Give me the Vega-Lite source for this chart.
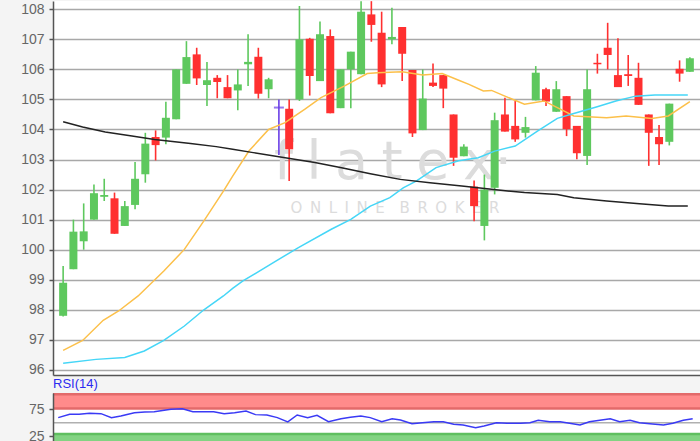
{
  "$schema": "https://vega.github.io/schema/vega-lite/v6.json",
  "background": "#f4f4f4",
  "padding": {"left": 20, "top": 0, "right": 0, "bottom": 0},
  "autosize": {"type": "pad"},
  "spacing": 18,
  "bounds": "flush",
  "config": {
    "view": {"stroke": null, "fill": "#ffffff"},
    "font": "Liberation Sans",
    "axis": {"labelFont": "Liberation Sans", "labelFontSize": 14, "labelColor": "#666666", "tickColor": "#555555", "tickSize": 4, "tickWidth": 1.5, "domainColor": "#555555", "domainWidth": 1.5, "labelPadding": 5, "gridColor": "#a8a8a8", "gridWidth": 1.5, "grid": false, "labelOverlap": false}
  },
  "datasets": {
    "candles": [
      {"i":0,"o":97.8,"h":99.46,"l":97.78,"c":98.9},
      {"i":1,"o":99.35,"h":101.0,"l":99.35,"c":100.6},
      {"i":2,"o":100.28,"h":101.54,"l":100.0,"c":100.61},
      {"i":3,"o":101.0,"h":102.17,"l":101.0,"c":101.88},
      {"i":4,"o":101.76,"h":102.36,"l":101.62,"c":101.82},
      {"i":5,"o":101.71,"h":101.9,"l":100.53,"c":100.53},
      {"i":6,"o":100.79,"h":101.62,"l":100.79,"c":101.45},
      {"i":7,"o":101.49,"h":102.92,"l":101.35,"c":102.36},
      {"i":8,"o":102.51,"h":103.89,"l":102.23,"c":103.53},
      {"i":9,"o":103.75,"h":103.97,"l":102.97,"c":103.48},
      {"i":10,"o":103.73,"h":104.92,"l":103.51,"c":104.39},
      {"i":11,"o":104.34,"h":106.0,"l":104.34,"c":106.0},
      {"i":12,"o":105.52,"h":106.94,"l":105.52,"c":106.41},
      {"i":13,"o":106.5,"h":106.72,"l":105.48,"c":105.7},
      {"i":14,"o":105.48,"h":106.25,"l":104.78,"c":105.64},
      {"i":15,"o":105.72,"h":105.81,"l":105.04,"c":105.58},
      {"i":16,"o":105.41,"h":105.81,"l":105.04,"c":105.04},
      {"i":17,"o":105.3,"h":106.0,"l":104.64,"c":105.5},
      {"i":18,"o":106.17,"h":107.17,"l":105.45,"c":106.25},
      {"i":19,"o":106.42,"h":106.72,"l":105.03,"c":105.19},
      {"i":20,"o":105.34,"h":105.72,"l":105.04,"c":105.67},
      {"i":21,"o":104.73,"h":105.0,"l":103.15,"c":104.73},
      {"i":22,"o":104.69,"h":105.0,"l":102.29,"c":103.34},
      {"i":23,"o":105.0,"h":108.11,"l":104.95,"c":107.0},
      {"i":24,"o":107.02,"h":107.05,"l":105.13,"c":105.78},
      {"i":25,"o":105.61,"h":107.59,"l":105.61,"c":107.17},
      {"i":26,"o":107.11,"h":107.33,"l":104.54,"c":104.54},
      {"i":27,"o":104.71,"h":106.0,"l":104.71,"c":106.0},
      {"i":28,"o":106.0,"h":106.59,"l":104.71,"c":106.59},
      {"i":29,"o":105.84,"h":108.27,"l":105.84,"c":107.92},
      {"i":30,"o":107.83,"h":108.27,"l":106.92,"c":107.48},
      {"i":31,"o":107.22,"h":107.92,"l":105.41,"c":105.5},
      {"i":32,"o":107.0,"h":108.05,"l":106.84,"c":107.08},
      {"i":33,"o":107.41,"h":107.41,"l":105.61,"c":106.52},
      {"i":34,"o":105.98,"h":105.98,"l":103.75,"c":103.87},
      {"i":35,"o":103.98,"h":106.0,"l":103.98,"c":105.03},
      {"i":36,"o":105.56,"h":106.2,"l":105.41,"c":105.45},
      {"i":37,"o":105.81,"h":105.81,"l":104.71,"c":105.36},
      {"i":38,"o":104.5,"h":104.5,"l":102.79,"c":103.06},
      {"i":39,"o":103.11,"h":103.51,"l":103.11,"c":103.43},
      {"i":40,"o":102.1,"h":102.3,"l":100.95,"c":101.45},
      {"i":41,"o":100.79,"h":102.5,"l":100.31,"c":102.0},
      {"i":42,"o":102.06,"h":104.56,"l":101.84,"c":104.31},
      {"i":43,"o":104.5,"h":105.06,"l":103.93,"c":103.93},
      {"i":44,"o":104.12,"h":104.95,"l":103.59,"c":103.67},
      {"i":45,"o":103.89,"h":104.42,"l":103.73,"c":104.08},
      {"i":46,"o":104.97,"h":106.11,"l":104.97,"c":105.89},
      {"i":47,"o":105.34,"h":105.39,"l":104.78,"c":104.93},
      {"i":48,"o":104.59,"h":105.61,"l":104.59,"c":105.34},
      {"i":49,"o":105.11,"h":105.11,"l":103.78,"c":104.01},
      {"i":50,"o":104.12,"h":104.12,"l":103.01,"c":103.21},
      {"i":51,"o":103.12,"h":106.0,"l":102.82,"c":105.34},
      {"i":52,"o":106.22,"h":106.52,"l":105.86,"c":106.17},
      {"i":53,"o":106.72,"h":107.55,"l":106.0,"c":106.48},
      {"i":54,"o":105.81,"h":107.04,"l":105.41,"c":105.41},
      {"i":55,"o":105.84,"h":106.48,"l":105.45,"c":105.78},
      {"i":56,"o":105.72,"h":106.22,"l":104.82,"c":104.82},
      {"i":57,"o":104.5,"h":104.5,"l":102.79,"c":103.89},
      {"i":58,"o":103.75,"h":104.15,"l":102.82,"c":103.51},
      {"i":59,"o":103.59,"h":104.86,"l":103.47,"c":104.86},
      {"i":60,"o":106.02,"h":106.3,"l":105.59,"c":105.86},
      {"i":61,"o":105.92,"h":106.4,"l":105.92,"c":106.37}
    ],
    "ma": [
      {"s":"short","i":0,"v":96.65},{"s":"short","i":1.9,"v":96.98},{"s":"short","i":3.9,"v":97.65},{"s":"short","i":5.4,"v":97.96},{"s":"short","i":7.3,"v":98.46},{"s":"short","i":9.8,"v":99.29},{"s":"short","i":11.8,"v":100.01},{"s":"short","i":13.7,"v":100.96},{"s":"short","i":15.6,"v":101.95},{"s":"short","i":16.5,"v":102.45},{"s":"short","i":18.1,"v":103.29},{"s":"short","i":20.0,"v":104.0},{"s":"short","i":21.6,"v":104.23},{"s":"short","i":23.5,"v":104.67},{"s":"short","i":25.1,"v":105.06},{"s":"short","i":27.4,"v":105.45},{"s":"short","i":29.6,"v":105.86},{"s":"short","i":30.6,"v":105.89},{"s":"short","i":33.0,"v":105.92},{"s":"short","i":35.0,"v":105.81},{"s":"short","i":36.9,"v":105.86},{"s":"short","i":38.5,"v":105.64},{"s":"short","i":39.5,"v":105.5},{"s":"short","i":40.9,"v":105.28},{"s":"short","i":41.7,"v":105.3},{"s":"short","i":43.0,"v":105.11},{"s":"short","i":44.9,"v":104.84},{"s":"short","i":46.8,"v":104.95},{"s":"short","i":48.1,"v":104.73},{"s":"short","i":49.7,"v":104.45},{"s":"short","i":52.9,"v":104.39},{"s":"short","i":54.8,"v":104.45},{"s":"short","i":57.3,"v":104.37},{"s":"short","i":58.9,"v":104.45},{"s":"short","i":61.0,"v":104.93},
      {"s":"mid","i":0,"v":96.22},{"s":"mid","i":3.2,"v":96.35},{"s":"mid","i":6.0,"v":96.41},{"s":"mid","i":7.9,"v":96.63},{"s":"mid","i":9.8,"v":96.98},{"s":"mid","i":11.8,"v":97.46},{"s":"mid","i":13.7,"v":98.0},{"s":"mid","i":15.6,"v":98.46},{"s":"mid","i":16.5,"v":98.71},{"s":"mid","i":17.5,"v":98.96},{"s":"mid","i":20.7,"v":99.62},{"s":"mid","i":22.9,"v":100.07},{"s":"mid","i":26.1,"v":100.68},{"s":"mid","i":28.0,"v":101.01},{"s":"mid","i":29.9,"v":101.45},{"s":"mid","i":31.8,"v":101.73},{"s":"mid","i":33.1,"v":102.06},{"s":"mid","i":34.4,"v":102.29},{"s":"mid","i":36.3,"v":102.73},{"s":"mid","i":38.5,"v":102.96},{"s":"mid","i":40.4,"v":103.06},{"s":"mid","i":42.0,"v":103.28},{"s":"mid","i":44.0,"v":103.45},{"s":"mid","i":46.2,"v":103.95},{"s":"mid","i":48.1,"v":104.37},{"s":"mid","i":49.7,"v":104.53},{"s":"mid","i":51.9,"v":104.75},{"s":"mid","i":53.8,"v":104.95},{"s":"mid","i":55.7,"v":105.11},{"s":"mid","i":57.6,"v":105.15},{"s":"mid","i":60.8,"v":105.15},
      {"s":"long","i":0,"v":104.26},{"s":"long","i":1.9,"v":104.08},{"s":"long","i":4.1,"v":103.92},{"s":"long","i":6.7,"v":103.78},{"s":"long","i":8.9,"v":103.67},{"s":"long","i":12.4,"v":103.53},{"s":"long","i":14.9,"v":103.43},{"s":"long","i":16.5,"v":103.34},{"s":"long","i":18.5,"v":103.23},{"s":"long","i":21.3,"v":103.08},{"s":"long","i":24.5,"v":102.9},{"s":"long","i":27.1,"v":102.73},{"s":"long","i":29.9,"v":102.53},{"s":"long","i":32.8,"v":102.34},{"s":"long","i":35.7,"v":102.23},{"s":"long","i":38.8,"v":102.12},{"s":"long","i":41.7,"v":102.01},{"s":"long","i":44.9,"v":101.9},{"s":"long","i":48.1,"v":101.84},{"s":"long","i":49.7,"v":101.73},{"s":"long","i":52.9,"v":101.62},{"s":"long","i":56.1,"v":101.53},{"s":"long","i":58.9,"v":101.45},{"s":"long","i":60.8,"v":101.45}
    ],
    "rsi": [
      {"i":0,"r":59.2},{"i":1.1,"r":65.4},{"i":2.0,"r":65.4},{"i":3.0,"r":67.2},{"i":4.1,"r":66.5},{"i":5.1,"r":59.2},{"i":6.0,"r":62.3},{"i":7.3,"r":68.3},{"i":8.3,"r":69.6},{"i":9.2,"r":70.1},{"i":10.8,"r":74.5},{"i":11.9,"r":75.6},{"i":12.9,"r":70.1},{"i":13.7,"r":70.1},{"i":14.9,"r":70.1},{"i":15.9,"r":66.5},{"i":16.9,"r":68.3},{"i":18.0,"r":71.4},{"i":18.9,"r":64.7},{"i":20.0,"r":64.1},{"i":21.0,"r":59.2},{"i":22.0,"r":51.3},{"i":22.9,"r":64.1},{"i":23.9,"r":59.2},{"i":24.8,"r":63.5},{"i":25.9,"r":51.8},{"i":27.1,"r":57.3},{"i":28.0,"r":60.0},{"i":29.0,"r":62.3},{"i":29.9,"r":59.2},{"i":31.0,"r":51.8},{"i":32.0,"r":57.3},{"i":32.8,"r":54.9},{"i":33.9,"r":48.2},{"i":34.9,"r":50.0},{"i":36.0,"r":51.8},{"i":36.9,"r":51.8},{"i":37.9,"r":47.1},{"i":38.8,"r":45.8},{"i":40.0,"r":40.8},{"i":40.8,"r":44.0},{"i":42.0,"r":50.0},{"i":43.0,"r":48.9},{"i":44.3,"r":48.9},{"i":45.2,"r":50.0},{"i":46.0,"r":54.4},{"i":47.1,"r":51.8},{"i":48.1,"r":51.8},{"i":49.0,"r":48.9},{"i":50.0,"r":45.8},{"i":50.9,"r":51.8},{"i":51.9,"r":54.4},{"i":52.9,"r":57.3},{"i":53.8,"r":51.8},{"i":54.8,"r":54.4},{"i":55.7,"r":50.0},{"i":56.7,"r":48.2},{"i":58.0,"r":45.8},{"i":58.9,"r":48.9},{"i":59.9,"r":54.4},{"i":60.8,"r":57.3}
    ],
    "zones": [
      {"zone":"overbought","lo":75.9,"hi":101.9},
      {"zone":"oversold","lo":16.4,"hi":29.3}
    ],
    "edges": [
      {"zone":"overbought","y":101.9},
      {"zone":"overbought","y":75.9},
      {"zone":"oversold","y":29.3}
    ],
    "mid": [{"level":50}],
    "brand": [{"name":"f\u2005l\u2005a\u2005t\u2005e\u2005x\u00b7","tag":"O\u2002N\u2002L\u2002I\u2002N\u2002E\u2002\u2002B\u2002R\u2002O\u2002K\u2002E\u2002R"}]
  },
  "vconcat": [
    {
      "width": 647,
      "height": 374,
      "layer": [
        {
          "data": {"name": "brand"},
          "mark": {"type": "text", "font": "DejaVu Sans", "fontSize": 54, "color": "#dcdcdc", "align": "center", "baseline": "alphabetic"},
          "encoding": {
            "x": {"datum": 32.1, "type": "quantitative", "scale": {"domain": [-0.5, 61.5], "nice": false, "zero": false}, "axis": {"labels": false, "ticks": false, "grid": false, "domain": true}, "title": null},
            "y": {"datum": 102.35, "type": "quantitative", "scale": {"domain": [95.83, 108.276], "nice": false, "zero": false}, "axis": {"values": [96,97,98,99,100,101,102,103,104,105,106,107,108], "tickCount": 13, "grid": true, "labelOverlap": false}, "title": null},
            "text": {"field": "name"}
          }
        },
        {
          "data": {"name": "brand"},
          "mark": {"type": "text", "font": "DejaVu Sans", "fontSize": 15, "color": "#dcdcdc", "align": "center", "baseline": "alphabetic"},
          "encoding": {
            "x": {"datum": 32.3, "type": "quantitative", "axis": {"labels": false, "ticks": false, "grid": false, "domain": true}, "title": null},
            "y": {"datum": 101.22, "type": "quantitative", "axis": {"values": [96,97,98,99,100,101,102,103,104,105,106,107,108], "tickCount": 13, "grid": true, "labelOverlap": false}, "title": null},
            "text": {"field": "tag"}
          }
        },
        {
          "data": {"name": "candles"},
          "mark": {"type": "rule", "strokeWidth": 1.6},
          "encoding": {
            "x": {"field": "i", "type": "quantitative", "scale": {"domain": [-0.5, 61.5], "nice": false, "zero": false}, "axis": {"labels": false, "ticks": false, "grid": false, "domain": true}, "title": null},
            "y": {"field": "l", "type": "quantitative", "axis": {"values": [96,97,98,99,100,101,102,103,104,105,106,107,108], "tickCount": 13, "grid": true, "labelOverlap": false}, "title": null},
            "y2": {"field": "h"},
            "color": {"condition": [{"test": "datum.o == datum.c", "value": "#6b3fe6"}, {"test": "datum.c > datum.o", "value": "#5ec85e"}], "value": "#ff3030"}
          }
        },
        {
          "data": {"name": "candles"},
          "mark": {"type": "bar", "width": 8},
          "encoding": {
            "x": {"field": "i", "type": "quantitative", "axis": {"labels": false, "ticks": false, "grid": false, "domain": true}, "title": null},
            "y": {"field": "o", "type": "quantitative", "axis": {"values": [96,97,98,99,100,101,102,103,104,105,106,107,108], "tickCount": 13, "grid": true, "labelOverlap": false}, "title": null},
            "y2": {"field": "c"},
            "color": {"condition": [{"test": "datum.o == datum.c", "value": "#6b3fe6"}, {"test": "datum.c > datum.o", "value": "#5ec85e"}], "value": "#ff3030"}
          }
        },
        {
          "data": {"name": "candles"},
          "transform": [{"filter": "datum.o == datum.c"}],
          "mark": {"type": "tick", "orient": "horizontal", "size": 10, "thickness": 2, "color": "#6b3fe6"},
          "encoding": {
            "x": {"field": "i", "type": "quantitative", "axis": {"labels": false, "ticks": false, "grid": false, "domain": true}, "title": null},
            "y": {"field": "o", "type": "quantitative", "axis": {"values": [96,97,98,99,100,101,102,103,104,105,106,107,108], "tickCount": 13, "grid": true, "labelOverlap": false}, "title": null}
          }
        },
        {
          "data": {"name": "ma"},
          "mark": {"type": "line", "strokeWidth": 1.5},
          "encoding": {
            "x": {"field": "i", "type": "quantitative", "axis": {"labels": false, "ticks": false, "grid": false, "domain": true}, "title": null},
            "y": {"field": "v", "type": "quantitative", "axis": {"values": [96,97,98,99,100,101,102,103,104,105,106,107,108], "tickCount": 13, "grid": true, "labelOverlap": false}, "title": null},
            "color": {"field": "s", "type": "nominal", "scale": {"domain": ["short", "mid", "long"], "range": ["#fcc04a", "#45d6f7", "#222222"]}, "legend": null}
          }
        }
      ]
    },
    {
      "width": 647,
      "height": 48,
      "title": {"text": "RSI(14)", "anchor": "start", "frame": "group", "color": "#2b2bf0", "fontSize": 13, "fontWeight": "normal", "font": "Liberation Sans", "offset": 2},
      "layer": [
        {
          "data": {"name": "zones"},
          "mark": {"type": "rect"},
          "encoding": {
            "y": {"field": "lo", "type": "quantitative", "scale": {"domain": [16.4, 104.3], "nice": false, "zero": false}, "axis": {"values": [25, 75], "zindex": 1, "labelOverlap": false}, "title": null},
            "y2": {"field": "hi"},
            "color": {"field": "zone", "type": "nominal", "scale": {"domain": ["overbought", "oversold"], "range": ["#ff8b8b", "#82d382"]}, "legend": null}
          }
        },
        {
          "data": {"name": "edges"},
          "mark": {"type": "rule", "strokeWidth": 2.5},
          "encoding": {
            "y": {"field": "y", "type": "quantitative", "axis": {"values": [25, 75], "zindex": 1, "labelOverlap": false}, "title": null},
            "color": {"field": "zone", "type": "nominal", "scale": {"domain": ["overbought", "oversold"], "range": ["#e36a6a", "#5fbf5f"]}, "legend": null}
          }
        },
        {
          "data": {"name": "mid"},
          "mark": {"type": "rule", "strokeWidth": 1.5, "color": "#b0b0b0"},
          "encoding": {
            "y": {"field": "level", "type": "quantitative", "axis": {"values": [25, 75], "zindex": 1, "labelOverlap": false}, "title": null}
          }
        },
        {
          "data": {"name": "rsi"},
          "mark": {"type": "line", "strokeWidth": 1.5, "color": "#3a3af5"},
          "encoding": {
            "x": {"field": "i", "type": "quantitative", "scale": {"domain": [-0.5, 61.5], "nice": false, "zero": false}, "axis": null, "title": null},
            "y": {"field": "r", "type": "quantitative", "axis": {"values": [25, 75], "zindex": 1, "labelOverlap": false}, "title": null}
          }
        }
      ],
      "resolve": {"scale": {"color": "independent"}}
    }
  ]
}
